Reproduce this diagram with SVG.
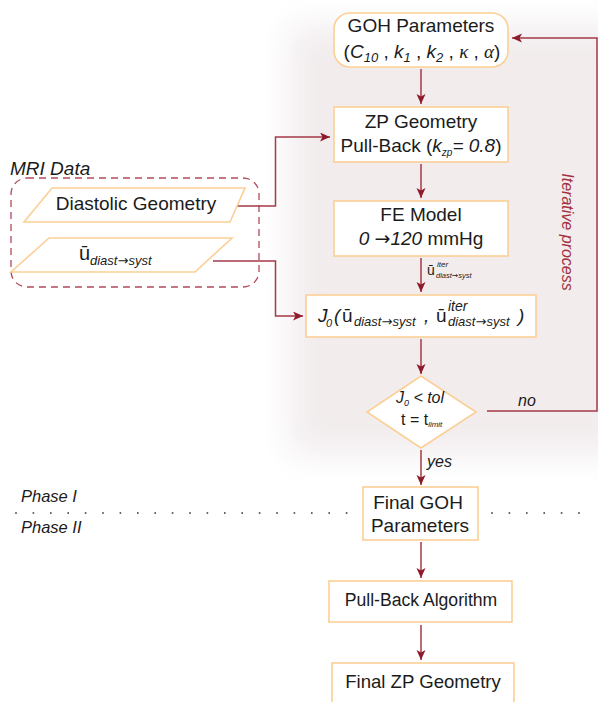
<svg xmlns="http://www.w3.org/2000/svg" width="598" height="702" viewBox="0 0 598 702">
<defs>
<filter id="soft" x="-20%" y="-20%" width="140%" height="140%"><feGaussianBlur stdDeviation="16"/></filter>
<marker id="arr" markerUnits="userSpaceOnUse" markerWidth="11" markerHeight="10" refX="10" refY="4.5" orient="auto"><path d="M0,0 L10,4.5 L0,9 L2.5,4.5 z" fill="#8e1b2b"/></marker>
<style>
text{font-family:"Liberation Sans",Arial,sans-serif;fill:#1b1b1b}
.box{fill:#fff;stroke:#fccf95;stroke-width:1.6}
.con{fill:none;stroke:#a43a47;stroke-width:1.5}
.it{font-style:italic}
.lbl{font-size:19px}
.red{fill:#a3303e}
.ser{font-family:"Liberation Serif","DejaVu Serif",serif;font-style:italic}
.ar{font-family:"DejaVu Sans",sans-serif;font-style:normal}
</style>
</defs>
<rect x="290" y="26" width="340" height="428" fill="#f2eced" filter="url(#soft)"/>

<g id="phase-divider">
<path d="M15.2,513 H350" stroke="#333" stroke-width="1.6" stroke-dasharray="1.6 15.8" fill="none"/>
<path d="M491.2,513 H583" stroke="#333" stroke-width="1.6" stroke-dasharray="1.6 15.8" fill="none"/>
<text x="21" y="502" class="it" font-size="16.5">Phase I</text>
<text x="21" y="533" class="it" font-size="16.5">Phase II</text>
</g>

<g id="mri-data">
<rect x="11" y="178" width="248" height="109" rx="16" fill="none" stroke="#b04b59" stroke-width="1.3" stroke-dasharray="7 5"/>
<text x="10" y="175" class="it" font-size="19">MRI Data</text>
</g>

<g id="connectors">
<path class="con" d="M421,69 V104" marker-end="url(#arr)"/>
<path class="con" d="M421,164 V198" marker-end="url(#arr)"/>
<path class="con" d="M421,258 V292" marker-end="url(#arr)"/>
<path class="con" d="M421,339 V374" marker-end="url(#arr)"/>
<path class="con" d="M421,450 V485" marker-end="url(#arr)"/>
<path class="con" d="M421,542 V578" marker-end="url(#arr)"/>
<path class="con" d="M421,625 V660" marker-end="url(#arr)"/>
<path class="con" d="M230,206 H275.5 V137 H330" marker-end="url(#arr)"/>
<path class="con" d="M213,261 H275.5 V316 H303" marker-end="url(#arr)"/>
<path class="con" d="M487,411 H597 V38 H512" marker-end="url(#arr)"/>
<text x="518" y="406" class="it" font-size="16">no</text>
<text x="427" y="467" class="it" font-size="16">yes</text>
<text x="427" y="275" font-size="14">ū</text>
<text x="437" y="267" class="it" font-size="8">iter</text>
<text x="436" y="278" class="it" font-size="7.5">diast<tspan class="ar">→</tspan>syst</text>
<text transform="translate(562,232) rotate(90)" text-anchor="middle" class="it red" font-size="16">Iterative process</text>
</g>

<g id="goh-parameters">
<rect class="box" x="334" y="13" width="174" height="54" rx="16"/>
<text x="421" y="32" text-anchor="middle" class="lbl">GOH Parameters</text>
<text x="422" y="58" text-anchor="middle" class="lbl">(<tspan class="it">C</tspan><tspan class="it" font-size="13" dy="4">10</tspan><tspan dy="-4"> , </tspan><tspan class="it">k</tspan><tspan class="it" font-size="13" dy="4">1</tspan><tspan dy="-4"> , </tspan><tspan class="it">k</tspan><tspan class="it" font-size="13" dy="4">2</tspan><tspan dy="-4"> , </tspan><tspan class="ser">κ</tspan><tspan> , </tspan><tspan class="ser">α</tspan>)</text>
</g>

<g id="zp-geometry">
<rect class="box" x="334" y="107" width="174" height="55"/>
<text x="421" y="128" text-anchor="middle" class="lbl">ZP Geometry</text>
<text x="421" y="152" text-anchor="middle" class="lbl">Pull-Back (<tspan class="it">k</tspan><tspan class="it" font-size="10" dy="4">zp</tspan><tspan class="it" dy="-4">= 0.8</tspan>)</text>
</g>

<g id="fe-model">
<rect class="box" x="334" y="201" width="174" height="55"/>
<text x="421" y="221" text-anchor="middle" class="lbl">FE Model</text>
<text x="421" y="245" text-anchor="middle" class="lbl"><tspan class="it">0 </tspan><tspan class="ar">→</tspan><tspan class="it">120</tspan> mmHg</text>
</g>

<g id="objective">
<rect class="box" x="306" y="295" width="230" height="42"/>
<text x="318" y="322" class="it" font-size="19">J</text>
<text x="326" y="327" class="it" font-size="11">0</text>
<text x="334" y="322" class="it" font-size="19">(</text>
<text x="342" y="322" font-size="19">ū</text>
<text x="354" y="326" class="it" font-size="13">diast<tspan class="ar">→</tspan>syst</text>
<text x="424" y="322" class="it" font-size="19">,</text>
<text x="436" y="322" font-size="19">ū</text>
<text x="448" y="311" class="it" font-size="14">iter</text>
<text x="448" y="326" class="it" font-size="13">diast<tspan class="ar">→</tspan>syst</text>
<text x="518" y="322" class="it" font-size="19">)</text>
</g>

<g id="convergence-check">
<path class="box" d="M421,376 L476,412 L421,448 L367,412 z"/>
<text x="420" y="403" text-anchor="middle" class="it" font-size="16">J<tspan font-size="9" dy="3">0</tspan><tspan dy="-3"> &lt; tol</tspan></text>
<text x="401" y="425" font-size="16">t = t<tspan class="it" font-size="8" dy="2">limit</tspan></text>
</g>

<g id="diastolic-geometry">
<path class="box" d="M52,188 H245 L230,222 H24 z"/>
<text x="136" y="210" text-anchor="middle" font-size="19">Diastolic Geometry</text>
</g>

<g id="displacement-data">
<path class="box" d="M49,238 H232 L195,272 H11 z"/>
<text x="79" y="260" font-size="20">ū</text>
<text x="90" y="265" class="it" font-size="13">diast<tspan class="ar">→</tspan>syst</text>
</g>

<g id="final-goh">
<rect class="box" x="363" y="487" width="115" height="53"/>
<text x="418" y="509" text-anchor="middle" class="lbl">Final GOH</text>
<text x="420" y="532" text-anchor="middle" class="lbl">Parameters</text>
</g>

<g id="pull-back-algorithm">
<rect class="box" x="329" y="581" width="183" height="41"/>
<text x="421" y="606" text-anchor="middle" font-size="17.6">Pull-Back Algorithm</text>
</g>

<g id="final-zp-geometry">
<rect class="box" x="332" y="663" width="182" height="50"/>
<text x="423" y="688" text-anchor="middle" font-size="18.6">Final ZP Geometry</text>
</g>
</svg>
